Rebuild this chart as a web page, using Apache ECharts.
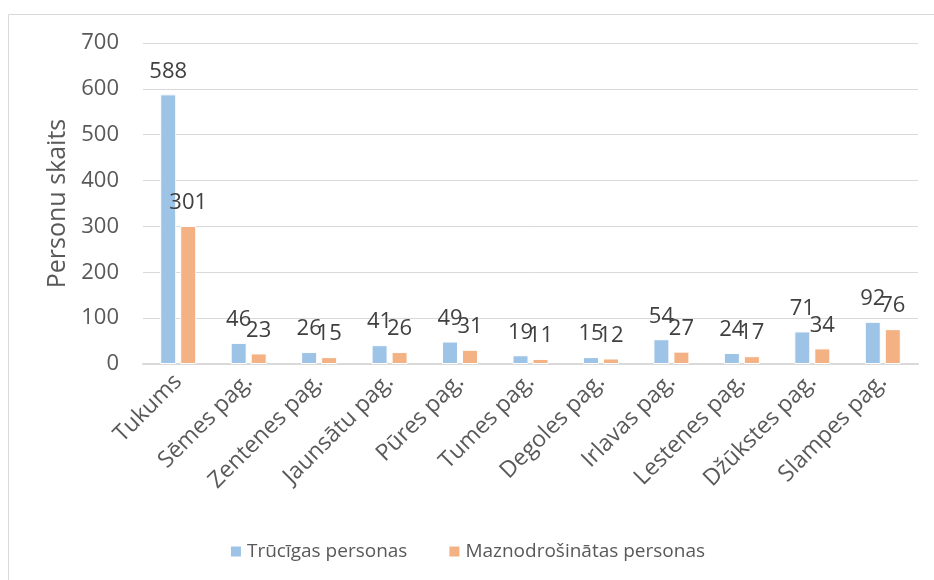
<!DOCTYPE html>
<html>
<head>
<meta charset="utf-8">
<script src="https://cdn.jsdelivr.net/npm/echarts@6/dist/echarts.min.js"></script>
<style>
  html, body { margin: 0; padding: 0; background: #fff; }
  #chart { width: 934px; height: 580px; }
</style>
</head>
<body>
<div id="chart"></div>
<script>
const categories = ['Tukums', 'Sēmes pag.', 'Zentenes pag.', 'Jaunsātu pag.', 'Pūres pag.', 'Tumes pag.',
  'Degoles pag.', 'Irlavas pag.', 'Lestenes pag.', 'Džūkstes pag.', 'Slampes pag.']
const trucigas = [588, 46, 26, 41, 49, 19, 15, 54, 24, 71, 92]
const maznodrosinatas = [301, 23, 15, 26, 31, 11, 12, 27, 17, 34, 76]
const yTicks = { min: 0, max: 700, interval: 100 }

const font = '"Open Sans", sans-serif'
const chart = echarts.init(document.getElementById('chart'))

const barSeries = (name, data, color) => ({
  name,
  type: 'bar',
  data,
  barWidth: 16,
  barGap: '25%',
  itemStyle: { color, borderColor: '#fff', borderWidth: 1 },
  label: {
    show: true,
    position: 'top',
    distance: 12,
    color: '#404040',
    fontFamily: font,
    fontSize: 22
  }
})

chart.setOption({
  animation: false,
  graphic: [
    { type: 'line', shape: { x1: 8.5, y1: 14.5, x2: 934, y2: 14.5 }, style: { stroke: '#d9d9d9', lineWidth: 1 } },
    { type: 'line', shape: { x1: 8.5, y1: 14.5, x2: 8.5, y2: 580 }, style: { stroke: '#d9d9d9', lineWidth: 1 } }
  ],
  grid: { left: 143, right: 16, top: 43, bottom: 216 },
  legend: {
    bottom: 14,
    left: 'center',
    itemWidth: 12,
    itemHeight: 12,
    itemGap: 40,
    icon: 'rect',
    textStyle: { color: '#595959', fontFamily: font, fontSize: 19 }
  },
  xAxis: {
    type: 'category',
    data: categories,
    axisLine: { lineStyle: { color: '#d9d9d9', width: 2 } },
    axisTick: { show: false },
    axisLabel: { rotate: 45, margin: 14, interval: 0, color: '#595959', fontFamily: font, fontSize: 23 }
  },
  yAxis: {
    type: 'value',
    ...yTicks,
    name: 'Personu skaits',
    nameLocation: 'middle',
    nameGap: 70,
    nameTextStyle: { color: '#595959', fontFamily: font, fontSize: 25 },
    axisLine: { show: false },
    axisTick: { show: false },
    splitLine: { lineStyle: { color: '#d9d9d9', width: 1 } },
    axisLabel: { margin: 24, color: '#595959', fontFamily: font, fontSize: 22 }
  },
  series: [
    barSeries('Trūcīgas personas', trucigas, '#9dc3e6'),
    barSeries('Maznodrošinātas personas', maznodrosinatas, '#f4b183')
  ]
})
</script>
</body>
</html>
